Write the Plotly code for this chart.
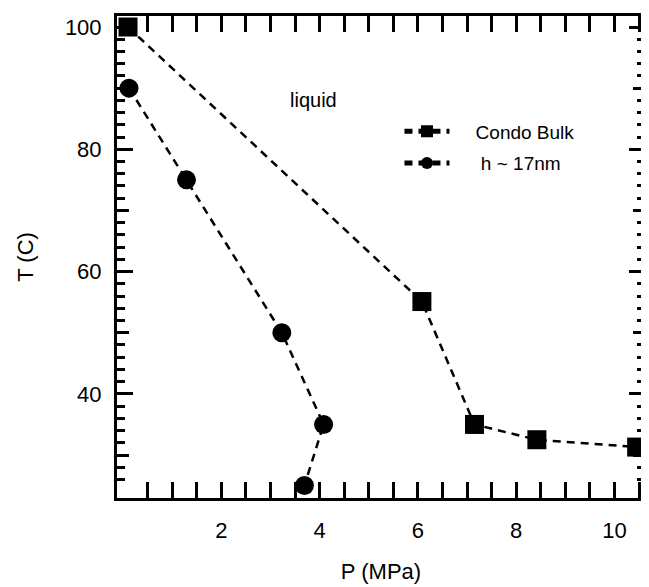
import numpy as np
import plotly.graph_objects as go

# Data
bulk_P = [0.10, 6.08, 7.15, 8.42, 10.45]
bulk_T = [100.0, 55.1, 35.0, 32.5, 31.3]
film_P = [0.12, 1.29, 3.23, 4.08, 3.69]
film_T = [90.0, 75.0, 50.0, 35.0, 25.0]
bulk_name = "\u00a0\u00a0\u00a0\u00a0Condo Bulk"
film_name = "\u00a0\u00a0\u00a0\u00a0\u00a0h ~ 17nm"
x_ticks = [2, 4, 6, 8, 10]
y_ticks = [40, 60, 80, 100]
y_mid_ticks = [30, 50, 70, 90]

FONT = "Liberation Sans, Arial, Helvetica, sans-serif"
line_style = dict(color="black", width=2.5, dash="8px,6px")

fig = go.Figure()
fig.add_trace(go.Scatter(
    x=bulk_P, y=bulk_T, mode="lines+markers", name=bulk_name,
    line=line_style, legendgroup="a",
    marker=dict(symbol="square", size=19, color="black"),
))
fig.add_trace(go.Scatter(
    x=film_P, y=film_T, mode="lines+markers", name=film_name,
    line=line_style, legendgroup="b",
    marker=dict(symbol="circle", size=19, color="black"),
))
# helper trace so the overlay axis (mid-length y ticks) is drawn
fig.add_trace(go.Scatter(x=[None], y=[None], yaxis="y2", showlegend=False,
                         hoverinfo="skip"))

xr = [-0.124, 10.62]
yr = [22.97, 101.8]

# the page body has an 8px margin: shift the figure up/left to compensate
fig.update_layout(
    width=641, height=579,
    margin=dict(l=108.5, r=3.8, t=8, b=88.5, autoexpand=False),
    paper_bgcolor="white", plot_bgcolor="white",
    font=dict(family=FONT, color="black", size=20),
    showlegend=True,
    legend=dict(
        x=0.535, y=0.80, xanchor="left", yanchor="top",
        bgcolor="rgba(0,0,0,0)", borderwidth=0,
        font=dict(size=19, family=FONT, color="black"),
        itemsizing="constant", itemwidth=45,
        tracegroupgap=4, traceorder="grouped",
    ),
    xaxis=dict(
        range=xr, showgrid=False, zeroline=False, automargin=False,
        showline=True, linecolor="black", linewidth=3, mirror="allticks",
        ticks="inside", ticklen=16, tickwidth=2.5, tickcolor="black",
        tickvals=x_ticks, ticktext=[str(v) for v in x_ticks],
        tickfont=dict(size=22, family=FONT), ticklabelstandoff=11,
        minor=dict(tickvals=list(np.arange(0.5, 10.6, 0.5)), ticks="inside",
                   ticklen=9, tickwidth=2.5, tickcolor="black", showgrid=False),
        title=dict(text="P (MPa)", font=dict(size=22, family=FONT), standoff=22),
    ),
    yaxis=dict(
        range=yr, showgrid=False, zeroline=False, automargin=False,
        showline=True, linecolor="black", linewidth=3, mirror="allticks",
        ticks="inside", ticklen=16, tickwidth=2.5, tickcolor="black",
        tickvals=y_ticks, ticktext=[str(v) for v in y_ticks],
        tickfont=dict(size=22, family=FONT), ticklabelstandoff=8,
        minor=dict(tickvals=list(np.arange(26, 99, 2)), ticks="inside",
                   ticklen=8, tickwidth=2.5, tickcolor="black", showgrid=False),
        title=dict(text="T (C)", font=dict(size=22, family=FONT), standoff=26),
    ),
    yaxis2=dict(
        range=yr, overlaying="y", side="left", showgrid=False, zeroline=False,
        automargin=False,
        showline=False, mirror="ticks", ticks="inside", ticklen=12,
        tickwidth=2.5, tickcolor="black", tickvals=y_mid_ticks,
        showticklabels=False,
    ),
    annotations=[dict(
        x=3.87, y=88.0, xref="x", yref="y", text="liquid", showarrow=False,
        font=dict(size=20, family=FONT, color="black"),
    )],
)

fig.write_html("out.html")
